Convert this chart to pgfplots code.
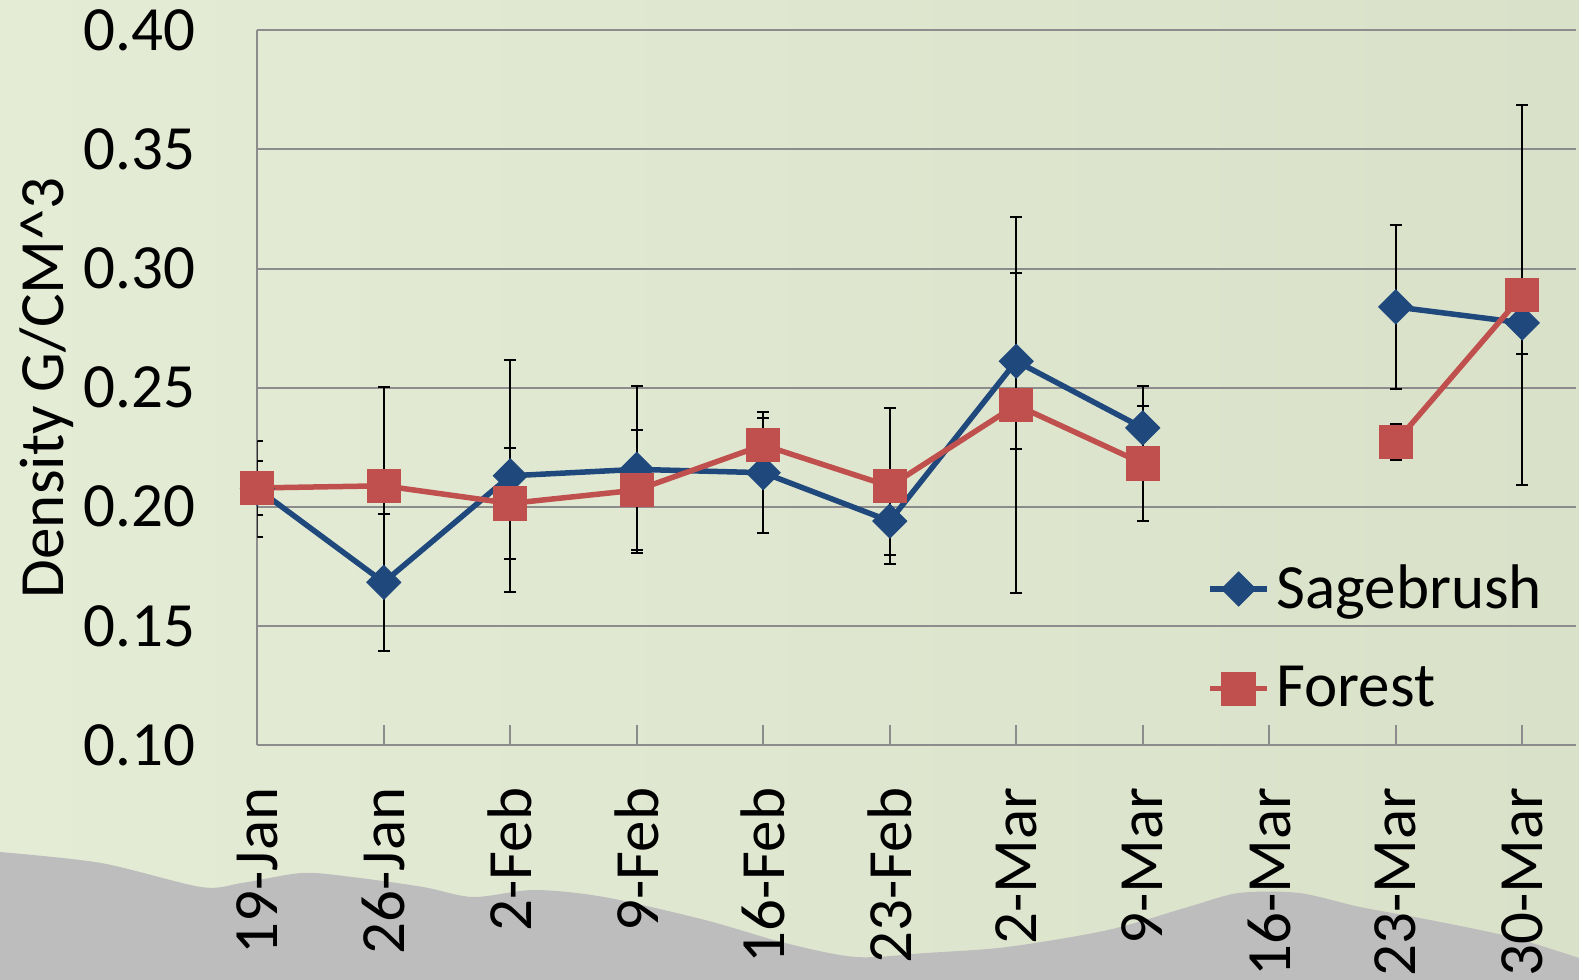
\documentclass[border=0pt]{standalone}
\usepackage{fontspec}
\setmainfont{Carlito}
\usepackage{pgfplots}
\usepackage{pgfplotstable}
\pgfplotsset{compat=1.18}

\definecolor{sage}{HTML}{1F497D}
\definecolor{forest}{HTML}{C0504D}
\definecolor{gridgray}{HTML}{8C8C8C}
\definecolor{bgleft}{HTML}{E4ECD6}
\definecolor{bgright}{HTML}{DAE1C9}
\definecolor{hill}{HTML}{BDBDBD}

\newcommand\cf{\fontsize{18.9pt}{22.7pt}\selectfont}

% x = week index (19-Jan = 0), errors as +/- half widths
\pgfplotstableread{
x  sage   sagep  sagem  forest forestp forestm
0  0.2076 0.0202 0.0202 0.2079 0.0114 0.0114
1  0.1683 0.0288 0.0288 0.2088 0.0415 0.0415
2  0.2130 0.0488 0.0488 0.2014 0.0232 0.0232
3  0.2157 0.0351 0.0351 0.2070 0.0252 0.0252
4  0.2143 0.0253 0.0253 0.2259 0.0114 0.0114
5  0.1940 0.0143 0.0143 0.2086 0.0328 0.0328
6  0.2611 0.0370 0.0370 0.2427 0.0788 0.0788
7  0.2331 0.0177 0.0177 0.2182 0.0240 0.0240
8  nan    nan    nan    nan    nan    nan
9  0.2839 0.0344 0.0344 0.2271 0.0076 0.0076
10 0.2772 0.0130 0.0130 0.2888 0.0797 0.0797
}\density

\begin{document}
\begin{tikzpicture}
\begin{scope}[x=0.3pt,y=0.3pt]
\shade[left color=bgleft,right color=bgright] (0,0) rectangle (1579,980);
\fill[hill] plot[smooth] coordinates {(0,128) (101,117) (201,93) (242,97) (302,107) (352,103) (423,93) (473,83) (534,90) (604,83) (705,60) (785,37) (856,23) (926,27) (1007,33) (1108,50) (1188,73) (1239,87) (1299,87) (1360,73) (1430,60) (1511,43) (1579,22)} -- (1579,0) -- (0,0) -- cycle;
\end{scope}
\begin{axis}[
  at={(77.19pt,70.5pt)}, anchor=south west,
  scale only axis, width=395.6pt, height=214.4pt,
  xmin=0, xmax=10.425, ymin=0.10, ymax=0.40,
  axis x line*=bottom, axis y line*=left,
  axis line style={draw=gridgray, line width=0.6pt, -},
  xtick={0,...,10},
  xticklabels={19-Jan,26-Jan,2-Feb,9-Feb,16-Feb,23-Feb,2-Mar,9-Mar,16-Mar,23-Mar,30-Mar},
  ytick={0.10,0.15,0.20,0.25,0.30,0.35,0.40},
  yticklabel style={/pgf/number format/.cd, fixed, fixed zerofill, precision=2, assume math mode=true},
  ymajorgrids, grid style={gridgray, line width=0.6pt},
  tick align=inside, major tick length=6pt,
  xtick style={gridgray, line width=0.6pt}, ytick style={draw=none},
  tick label style={font=\cf, inner sep=0pt},
  xticklabel style={rotate=90, anchor=east},
  xticklabel shift=12.6pt, yticklabel shift=18.3pt,
  ylabel={Density G/CM\textasciicircum 3},
  ylabel style={font=\cf, at={(axis description cs:-0.1473,0.5)}, anchor=base, rotate=0, inner sep=0pt},
  unbounded coords=jump,
  legend style={at={(axis cs:7.507,0.1788)}, anchor=north west, draw=none, fill=none,
    font=\cf, inner sep=0pt, row sep=11.8pt},
  legend cell align=left,
  legend image code/.code={\draw[mark repeat=2,mark phase=2,#1] plot coordinates {(0pt,0pt) (8.5pt,0pt) (17pt,0pt)};},
]
\addplot[sage, line width=1.65pt, mark=square*, mark size=3.6pt,
  mark options={rotate=45, solid, fill=sage, line width=0.3pt},
  error bars/.cd, y dir=both, y explicit,
  error bar style={black, line width=0.6pt},
  error mark options={rotate=90, black, mark size=1.8pt, line width=0.6pt}]
  table[x=x, y=sage, y error plus=sagep, y error minus=sagem] {\density};
\addlegendentry{Sagebrush}
\addplot[forest, line width=1.65pt, mark=square*, mark size=5pt,
  mark options={solid, fill=forest, line width=0.3pt},
  error bars/.cd, y dir=both, y explicit,
  error bar style={black, line width=0.6pt},
  error mark options={rotate=90, black, mark size=1.8pt, line width=0.6pt}]
  table[x=x, y=forest, y error plus=forestp, y error minus=forestm] {\density};
\addlegendentry{Forest}
\end{axis}
\pgfresetboundingbox
\useasboundingbox (0,0) rectangle (473.7pt,294pt);
\end{tikzpicture}
\end{document}
